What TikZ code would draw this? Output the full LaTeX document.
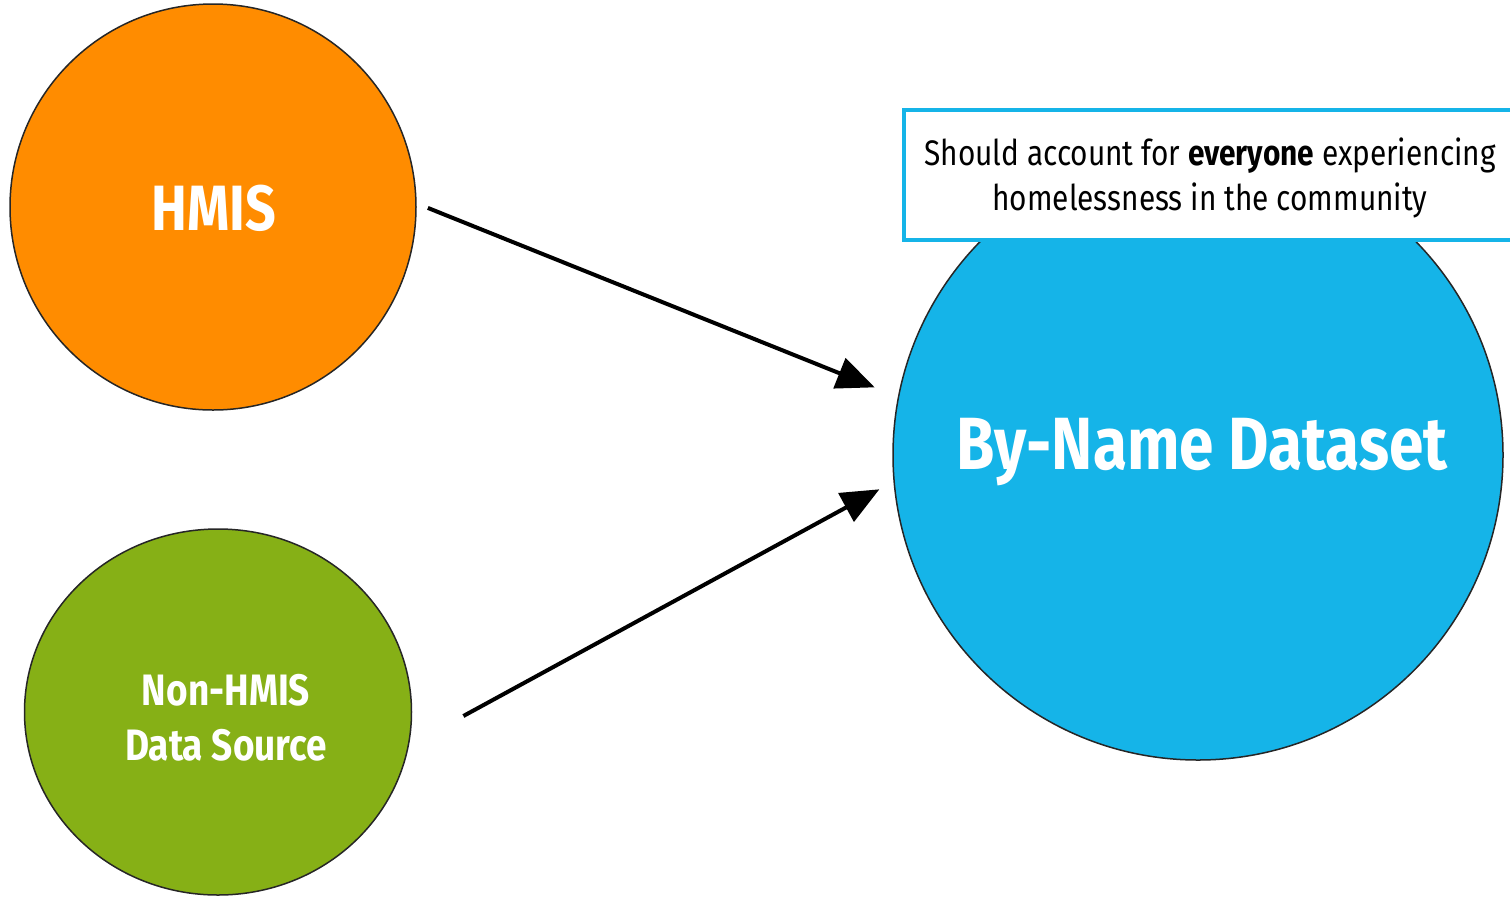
\documentclass[tikz,border=0pt]{standalone}
\usepackage{fontspec}
\setmainfont{Fira Sans}[FakeStretch=0.84]
\usetikzlibrary{arrows.meta,shapes.geometric}
\definecolor{hmisorange}{RGB}{255,140,0}
\definecolor{srcgreen}{RGB}{134,176,22}
\definecolor{dsblue}{RGB}{21,180,232}
\tikzset{
  blob/.style={circle, draw=black!85, line width=1.5pt, inner sep=0pt},
  oval/.style={ellipse, draw=black!85, line width=1.5pt, inner sep=0pt},
  flow/.style={line width=4pt, -{Triangle[length=38pt,width=32pt]}},
  notebox/.style={rectangle, draw=dsblue, fill=white, line width=4pt,
    minimum width=612pt, minimum height=130pt, inner sep=0pt},
}
\begin{document}
\begin{tikzpicture}[x=1pt,y=-1pt]
  \clip (0,0) rectangle (1510,898);
  \fill[white] (0,0) rectangle (1510,898);

  % source and target shapes
  \node[blob, fill=hmisorange, minimum size=406pt] (hmis) at (213,207) {};
  \node[oval, fill=srcgreen, minimum width=387pt, minimum height=366pt] (nonhmis) at (218,712) {};
  \node[blob, fill=dsblue, minimum size=610pt] (byname) at (1198,455) {};

  % shape labels
  \node[text=white, font=\fontsize{64}{70}\selectfont\bfseries, anchor=base]
    (hmislbl) at (214,230) {HMIS};
  \node[text=white, font=\fontsize{44}{55}\selectfont\bfseries, align=center, anchor=north]
    (srclbl) at (226,671) {Non-HMIS\\Data Source};
  \node[text=white, font=\fontsize{74}{80}\selectfont\bfseries, anchor=base]
    (bynamelbl) at (1202,469) {By-Name Dataset};

  % callout on top of the dataset circle
  \node[notebox] (note) at (1210,175) {};
  \node[font=\fontsize{35.5}{45}\selectfont, align=center, anchor=north]
    (notetxt) at (1210,134) {Should account for \textbf{everyone} experiencing\\homelessness in the community};

  % data flows into the dataset
  \draw[flow, shorten <=12pt, shorten >=25pt] (hmis.1) -- (byname.169.5);
  \draw[flow, shorten <=62pt, shorten >=16pt] (nonhmis.-10.8) -- (byname.-175.8);
\end{tikzpicture}
\end{document}
